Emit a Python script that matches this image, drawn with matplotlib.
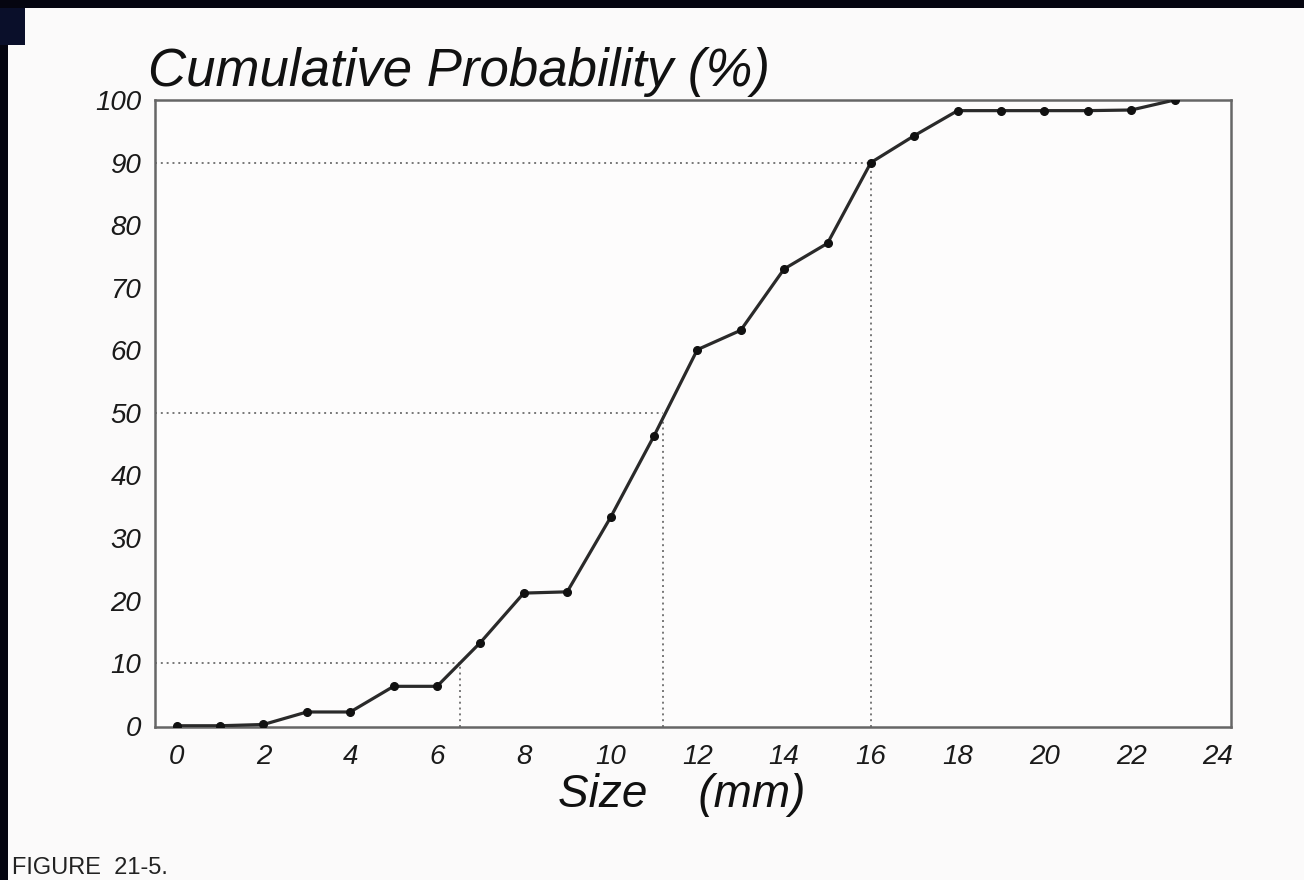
import matplotlib
matplotlib.use("Agg")
import matplotlib.pyplot as plt
from matplotlib.patches import Rectangle

# Data
size_mm = [0, 1, 2, 3, 4, 5, 6, 7, 8, 9, 10, 11, 12, 13, 14, 15, 16, 17, 18, 19, 20, 21, 22, 23]
cum_prob = [0.0, 0.0, 0.2, 2.2, 2.2, 6.3, 6.3, 13.3, 21.2, 21.4, 33.3, 46.3, 60.1, 63.2, 73.0, 77.1,
            90.0, 94.3, 98.3, 98.3, 98.3, 98.3, 98.4, 100.0]
x_ticks = [0, 2, 4, 6, 8, 10, 12, 14, 16, 18, 20, 22, 24]
y_ticks = [0, 10, 20, 30, 40, 50, 60, 70, 80, 90, 100]
# percentile guides: (percent, size where curve crosses it)
guide_pct = [10, 50, 90]
guide_size = [6.53, 11.22, 16.0]

plt.rcParams['font.family'] = ['Liberation Sans', 'DejaVu Sans']

fig = plt.figure(figsize=(13.04, 8.80), dpi=100)
fig.patch.set_facecolor('#fbfafa')

ax = fig.add_axes([155/1304, 1-727/880, (1231-155)/1304, (727-100)/880])
ax.set_facecolor('#fdfcfc')

xmin, xmax = -0.5, 24.3
ymin, ymax = -0.2, 100.0
ax.set_xlim(xmin, xmax)
ax.set_ylim(ymin, ymax)

# dotted percentile guides
for p, s in zip(guide_pct, guide_size):
    ax.plot([xmin, s], [p, p], linestyle=(0, (1, 2)), color='#777777', lw=1.4, zorder=1)
    ax.plot([s, s], [ymin, p], linestyle=(0, (1, 2)), color='#777777', lw=1.4, zorder=1)

ax.plot(size_mm, cum_prob, color='#2a2a2a', lw=2.3, marker='o', markersize=5.5,
        markerfacecolor='#111111', markeredgecolor='#111111', zorder=3)

for sp in ax.spines.values():
    sp.set_color('#666666')
    sp.set_linewidth(1.8)

ax.set_xticks(x_ticks)
ax.set_yticks(y_ticks)
ax.set_xticklabels([str(t) for t in x_ticks], fontstyle='italic', fontsize=20, color='#1a1a1a')
ax.set_yticklabels([str(t) for t in y_ticks], fontstyle='italic', fontsize=20, color='#1a1a1a')
ax.tick_params(axis='both', length=0)
ax.tick_params(axis='x', pad=12)
ax.tick_params(axis='y', pad=10)

fig.text(148/1304, 1-72/880, 'Cumulative Probability (%)', fontsize=38, fontstyle='italic',
         ha='left', va='center', color='#111111')
fig.text(682/1304, 1-795/880, 'Size    (mm)', fontsize=33, fontstyle='italic',
         ha='center', va='center', color='#111111')
fig.text(12/1304, 1/880, 'FIGURE  21-5.', fontsize=17,
         ha='left', va='bottom', color='#222222')

# scan borders
fig.patches.append(Rectangle((0, 1-8/880), 1, 8/880, transform=fig.transFigure,
                             facecolor='#050510', edgecolor='none'))
fig.patches.append(Rectangle((0, 0), 8/1304, 1, transform=fig.transFigure,
                             facecolor='#050510', edgecolor='none'))
fig.patches.append(Rectangle((0, 1-45/880), 25/1304, 37/880, transform=fig.transFigure,
                             facecolor='#0a0f2a', edgecolor='none'))

fig.savefig('out.png', dpi=100, facecolor=fig.get_facecolor())
